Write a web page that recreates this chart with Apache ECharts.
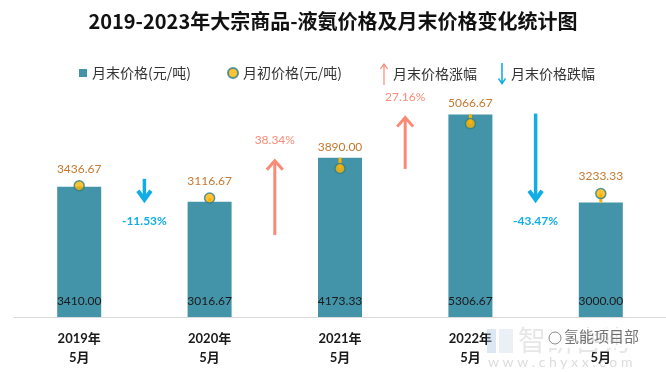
<!DOCTYPE html>
<html>
<head>
<meta charset="utf-8">
<script src="https://cdn.jsdelivr.net/npm/echarts@6/dist/echarts.min.js"></script>
<style>html,body{margin:0;padding:0;background:#fff;}#c{width:666px;height:372px;}</style>
</head>
<body>
<div id="c"></div>
<script>
// ---- data ----
const categories = ['2019年\n5月', '2020年\n5月', '2021年\n5月', '2022年\n5月', '2023年\n5月'];
const endPrice = [3410.00, 3016.67, 4173.33, 5306.67, 3000.00];      // 月末价格
const startPrice = [3436.67, 3116.67, 3890.00, 5066.67, 3233.33];    // 月初价格
const changeLabels = ['-11.53%', '38.34%', '27.16%', '-43.47%'];      // 月末价格涨跌幅
const changeValues = [-11.53, 38.34, 27.16, -43.47];
const arrowFrom = [3620, 2150, 3880, 5330];   // arrow tail value
const arrowTo = [3020, 4120, 5250, 3020];     // arrow head value

const NUM_FONT = 'Lato, "Noto Sans CJK SC", sans-serif';
const CJK_FONT = '"Noto Sans CJK SC", sans-serif';
const BAR_COLOR = '#4393A9';
const UP_COLOR = '#FA8A76';
const DOWN_COLOR = '#13ADE5';

const upData = [], downData = [];
changeValues.forEach((v, i) => {
  const item = [i, arrowFrom[i], arrowTo[i], changeLabels[i]];
  if (v >= 0) upData.push(item); else downData.push(item);
});

function arrowRender(isUp) {
  return function (params, api) {
    const i = api.value(0);
    const a = api.coord([i, api.value(1)]);
    const b = api.coord([i + 1, api.value(1)]);
    const x = (a[0] + b[0]) / 2;
    const y1 = a[1];
    const y2 = api.coord([i, api.value(2)])[1];
    const col = isUp ? UP_COLOR : DOWN_COLOR;
    const children = [];
    if (isUp) {
      children.push({ type: 'line', shape: { x1: x, y1: y1, x2: x, y2: y2 + 1 }, style: { stroke: col, lineWidth: 3 } });
      children.push({ type: 'polyline', shape: { points: [[x - 8, y2 + 10], [x, y2 + 1], [x + 8, y2 + 10]] }, style: { stroke: col, lineWidth: 3, fill: null } });
      children.push({ type: 'text', style: { text: changeLabels[i], x: x, y: y2 - 20, align: 'center', verticalAlign: 'middle', fill: col, font: '12px ' + NUM_FONT } });
    } else {
      children.push({ type: 'line', shape: { x1: x, y1: y1, x2: x, y2: y2 - 2 }, style: { stroke: col, lineWidth: 3.5 } });
      children.push({ type: 'polyline', shape: { points: [[x - 6.5, y2 - 11], [x, y2 - 2], [x + 6.5, y2 - 11]] }, style: { stroke: col, lineWidth: 4, fill: null } });
      children.push({ type: 'text', style: { text: changeLabels[i], x: x, y: y2 + 19, align: 'center', verticalAlign: 'middle', fill: col, font: 'bold 12px ' + NUM_FONT } });
    }
    return { type: 'group', children: children };
  };
}

const chart = echarts.init(document.getElementById('c'), null, { renderer: 'canvas' });
chart.setOption({
  animation: false,
  backgroundColor: '#fff',
  title: {
    text: '2019-2023年大宗商品-液氨价格及月末价格变化统计图',
    left: 'center', top: 6,
    textStyle: { fontFamily: CJK_FONT, fontSize: 20, fontWeight: 'bold', color: '#111' }
  },
  legend: [
    { data: [{ name: '月末价格(元/吨)', icon: 'rect' }], left: 74, top: 61, itemWidth: 8, itemHeight: 8,
      textStyle: { fontFamily: CJK_FONT, fontSize: 14, color: '#333' } },
    { data: [{ name: '月初价格(元/吨)', icon: 'circle' }], left: 222, top: 61, itemWidth: 10, itemHeight: 10,
      textStyle: { fontFamily: CJK_FONT, fontSize: 14, color: '#333' } },
    { data: [{ name: '月末价格涨幅', icon: 'path://M4 0 L8 5.5 L7.1 6.3 L4.6 3 L4.6 22 L3.4 22 L3.4 3 L0.9 6.3 L0 5.5 Z' }], left: 375, top: 58, itemWidth: 8, itemHeight: 22,
      textStyle: { fontFamily: CJK_FONT, fontSize: 14, color: '#333' } },
    { data: [{ name: '月末价格跌幅', icon: 'path://M4 22 L8 16 L7 15 L4.8 18 L4.8 0 L3.2 0 L3.2 18 L1 15 L0 16 Z' }], left: 493, top: 58, itemWidth: 8, itemHeight: 22,
      textStyle: { fontFamily: CJK_FONT, fontSize: 14, color: '#333' } }
  ],
  grid: { left: 14, right: -2, top: 88, bottom: 55, containLabel: false },
  xAxis: {
    type: 'category',
    data: categories,
    axisLine: { lineStyle: { color: '#D9D9D9', width: 1 } },
    axisTick: { show: false },
    axisLabel: { margin: 12, fontFamily: NUM_FONT, fontSize: 13, fontWeight: 'bold', color: '#1a1a1a', lineHeight: 19 }
  },
  yAxis: { type: 'value', min: 0, max: 6000, show: false, splitLine: { show: false } },
  series: [
    {
      name: '月末价格(元/吨)', type: 'bar', data: endPrice, barWidth: 44, z: 2,
      itemStyle: { color: BAR_COLOR },
      label: { show: true, position: 'insideBottom', distance: 10, formatter: p => p.value.toFixed(2),
        fontFamily: NUM_FONT, fontSize: 12, color: '#1a1a1a' }
    },
    {
      name: 'connector', type: 'custom', z: 3, silent: true,
      data: startPrice.map((v, i) => [i, v, endPrice[i]]),
      renderItem: function (params, api) {
        const i = api.value(0);
        const ps = api.coord([i, api.value(1)]);
        const pe = api.coord([i, api.value(2)]);
        const ly = Math.min(ps[1] - 6, pe[1]) - 11;
        return { type: 'group', children: [
          { type: 'line', shape: { x1: ps[0], y1: ps[1], x2: pe[0], y2: pe[1] }, style: { stroke: '#FFB000', lineWidth: 3 } },
          { type: 'text', style: { text: startPrice[i].toFixed(2), x: ps[0], y: ly, align: 'center', verticalAlign: 'middle', fill: '#C5782F', font: '12px ' + NUM_FONT } }
        ] };
      }
    },
    {
      name: '月初价格(元/吨)', type: 'scatter', data: startPrice, symbol: 'circle', symbolSize: 10, z: 4,
      itemStyle: { color: '#FFB400', borderColor: '#2B7F8C', borderWidth: 1.5 }
    },
    { name: '月末价格涨幅', type: 'custom', data: upData, renderItem: arrowRender(true), itemStyle: { color: UP_COLOR }, z: 5 },
    { name: '月末价格跌幅', type: 'custom', data: downData, renderItem: arrowRender(false), itemStyle: { color: DOWN_COLOR }, z: 5 }
  ],
  graphic: [
    { type: 'rect', left: 487, top: 329, shape: { width: 9, height: 24 }, style: { fill: 'rgba(170,195,225,0.4)' }, z: 10 },
    { type: 'rect', left: 499, top: 329, shape: { width: 14, height: 24 }, style: { fill: 'rgba(190,205,225,0.3)' }, z: 10 },
    { type: 'text', left: 518, top: 326, style: { text: '智研咨询', font: '28px ' + CJK_FONT, fill: 'rgba(195,195,195,0.4)' }, z: 10 },
    { type: 'text', left: 488, top: 355, style: { text: 'w w w . c h y x x . c o m', font: '14px ' + NUM_FONT, fill: 'rgba(185,185,185,0.5)' }, z: 10 },
    { type: 'rect', left: 546, top: 328, shape: { width: 114, height: 20 }, style: { fill: 'rgba(255,255,255,0.85)' }, z: 11 },
    { type: 'circle', shape: { cx: 555, cy: 338, r: 6 }, style: { fill: 'rgba(255,255,255,0.9)', stroke: 'rgba(90,90,90,0.7)', lineWidth: 1 }, z: 12 },
    { type: 'text', left: 564, top: 329, style: { text: '氢能项目部', font: '15px ' + CJK_FONT, fill: 'rgba(70,70,70,0.75)' }, z: 12 }
  ]
});
</script>
</body>
</html>
